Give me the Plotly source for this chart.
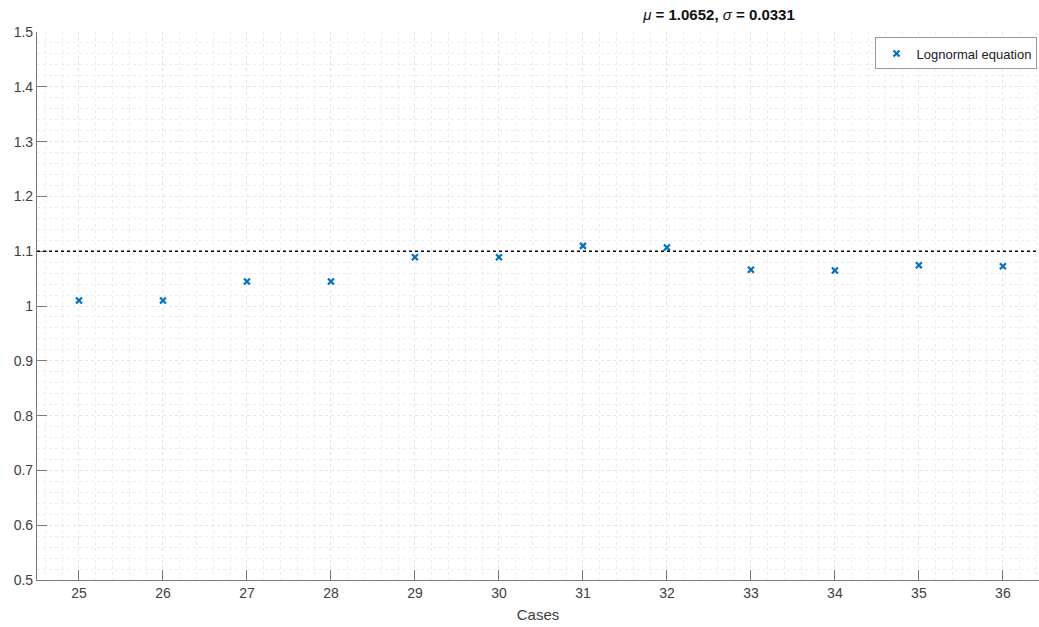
import plotly.graph_objects as go

cases = [25, 26, 27, 28, 29, 30, 31, 32, 33, 34, 35, 36]
ratio = [1.010, 1.010, 1.0446, 1.0446, 1.089, 1.089, 1.1097, 1.1066, 1.066, 1.0647, 1.0743, 1.0725]
threshold = 1.1
series_name = "Lognormal equation"
mu_txt = "1.0652"
sigma_txt = "0.0331"

axis_col = "#7a7a7a"
text_col = "#404040"
font = "Liberation Sans, Arial, sans-serif"

fig = go.Figure()
fig.add_trace(go.Scatter(
    x=cases, y=ratio, mode="markers", name=series_name,
    marker=dict(symbol="x-thin", size=6, color="#0072BD",
                line=dict(width=2.2, color="#0072BD")),
))
fig.add_hline(y=threshold, line=dict(color="black", width=1.6, dash="dot"), layer="above")

fig.update_layout(
    width=1039, height=627,
    margin=dict(l=37, r=0, t=32, b=47),
    paper_bgcolor="white", plot_bgcolor="white",
    font=dict(family=font, size=14, color=text_col),
    showlegend=True,
    legend=dict(x=0.9985, y=0.99, xanchor="right", yanchor="top",
                bgcolor="white", bordercolor="#9a9a9a", borderwidth=1,
                font=dict(size=13, color="#222222"), itemwidth=30,
                tracegroupgap=0),
    title=dict(
        text=f"<i>μ</i><b> = {mu_txt}, </b><i>σ</i><b> = {sigma_txt}</b>",
        x=0.692, y=0.976, xanchor="center", yanchor="middle",
        font=dict(size=15, color="#111111", family=font),
    ),
)

fig.update_xaxes(
    range=[24.5, 36.43], tickmode="array", tickvals=cases, ticktext=[str(c) for c in cases],
    ticks="inside", ticklen=10, tickcolor=axis_col, tickwidth=1,
    showline=True, linecolor=axis_col, linewidth=1.2, mirror=False,
    showgrid=True, gridcolor="#e4e4e4", gridwidth=1, griddash="dot",
    minor=dict(dtick=0.2, tick0=25, showgrid=True, gridcolor="#ececec", griddash="dot", gridwidth=1),
    zeroline=False,
    tickfont=dict(size=14, color=text_col),
    title=dict(text="Cases", font=dict(size=15, color=text_col), standoff=9),
)
fig.update_yaxes(
    range=[0.5, 1.5], dtick=0.1, tick0=0.5, tickformat="~g",
    ticks="inside", ticklen=10, tickcolor=axis_col, tickwidth=1,
    showline=True, linecolor=axis_col, linewidth=1.2, mirror=False,
    showgrid=True, gridcolor="#e4e4e4", gridwidth=1, griddash="dot",
    minor=dict(dtick=0.02, tick0=0.5, showgrid=True, gridcolor="#ececec", griddash="dot", gridwidth=1),
    zeroline=False,
    tickfont=dict(size=14, color=text_col),
)

fig.write_html("out.html")
